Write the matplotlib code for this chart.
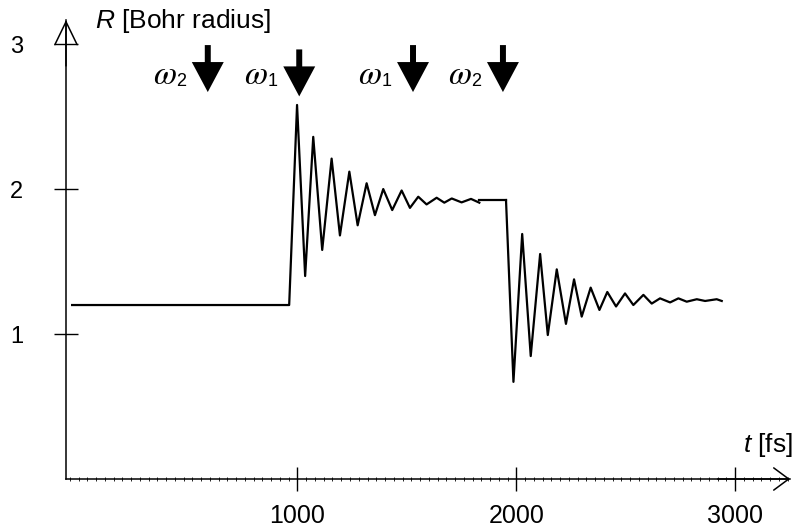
import numpy as np
import matplotlib
matplotlib.use("Agg")
from matplotlib import pyplot as plt
from matplotlib.ticker import MultipleLocator

plt.rcParams['font.family'] = ['Liberation Sans', 'DejaVu Sans']
plt.rcParams['mathtext.fontset'] = 'custom'
plt.rcParams['mathtext.rm'] = 'Liberation Sans'
plt.rcParams['mathtext.it'] = 'Liberation Sans:italic'

t = [-30, 962, 998, 1035, 1072, 1113, 1156, 1194, 1237, 1275, 1316, 1354,
     1392, 1433, 1476, 1514, 1552, 1590, 1636, 1671, 1705, 1750, 1793, 1831,
     1953, 1987, 2027, 2066, 2109, 2144, 2185, 2227, 2264, 2299, 2340, 2380,
     2416, 2456, 2497, 2535, 2581, 2619, 2657, 2703, 2741, 2779, 2825, 2863,
     2916, 2939]
R = [1.20, 1.20, 2.58, 1.40, 2.36, 1.58, 2.21, 1.68, 2.12, 1.75, 2.04, 1.82,
     2.00, 1.855, 1.99, 1.87, 1.947, 1.894, 1.94, 1.906, 1.935, 1.908, 1.932, 1.906,
     1.924, 0.67, 1.69, 0.848, 1.552, 0.993, 1.446, 1.07, 1.377, 1.12, 1.32, 1.166,
     1.29, 1.19, 1.28, 1.20, 1.27, 1.21, 1.246, 1.218, 1.246, 1.223, 1.24, 1.228,
     1.24, 1.228]
# flat segment before the second pulse
t_flat = [1831, 1953]
R_flat = [1.924, 1.924]

pulse_t = [590, 1008, 1528, 1939]
pulse_lab = ['2', '1', '1', '2']

W, H = 796, 530
fig = plt.figure(figsize=(W / 100, H / 100), dpi=100)
ax = fig.add_axes([66 / W, (H - 479) / H, (790 - 66) / W, (479 - 20) / H])

ax.plot(t[:24], R[:24], color='black', lw=1.6)
ax.plot(t_flat, R_flat, color='black', lw=1.6)
ax.plot(t[24:], R[24:], color='black', lw=1.6)

ax.set_xlim(-58, 3251)
ax.set_ylim(0, 3.166)
for s in ['top', 'right']:
    ax.spines[s].set_visible(False)
for s in ['left', 'bottom']:
    ax.spines[s].set_linewidth(1.1)

ax.set_xticks([1000, 2000, 3000])
ax.set_yticks([1, 2, 3])
ax.xaxis.set_minor_locator(MultipleLocator(40))
ax.tick_params(axis='both', which='major', direction='inout', length=17.3,
               width=1.0, labelsize=18)
ax.tick_params(axis='y', labelsize=17, pad=22)
ax.tick_params(axis='x', pad=9.5)
ax.tick_params(axis='x', which='minor', direction='inout', length=2.5, width=0.6)

# axis arrow heads
ax.annotate('', xy=(1, 0), xytext=(0.9, 0), xycoords='axes fraction',
            arrowprops=dict(arrowstyle='->,head_length=10.8,head_width=8',
                            mutation_scale=1, lw=1.1, shrinkA=0, shrinkB=0))
ax.annotate('', xy=(0, 1), xytext=(0, 0.9), xycoords='axes fraction',
            arrowprops=dict(arrowstyle='->,head_length=16.5,head_width=8',
                            mutation_scale=1, lw=1.1, shrinkA=0, shrinkB=0))

fig.text(95 / W, 1 - 28 / H, r'$\mathit{R}$ [Bohr radius]', fontsize=19,
         ha='left', va='baseline')
fig.text(793 / W, 1 - 452 / H, r'$\mathit{t}$ [fs]', fontsize=19,
         ha='right', va='baseline')

# laser pulse arrows
for i, (pt, lab) in enumerate(zip(pulse_t, pulse_lab)):
    dy = 0.03 if i == 1 else 0.0
    ax.annotate('', xy=(pt, 2.669 - dy), xytext=(pt, 2.993 - dy),
                arrowprops=dict(arrowstyle='simple,head_length=21.6,head_width=23,tail_width=4.3',
                                mutation_scale=1, fc='black', ec='none',
                                shrinkA=0, shrinkB=0))
    ax.annotate(r'$\omega$', xy=(pt, 2.78), xytext=(-22.5, 0),
                textcoords='offset points', ha='right', va='center',
                fontsize=24, math_fontfamily='stix')
    ax.annotate(lab, xy=(pt, 2.78), xytext=(-15.5, -4),
                textcoords='offset points', ha='right', va='center',
                fontsize=13)

fig.savefig('out.png', dpi=100)
